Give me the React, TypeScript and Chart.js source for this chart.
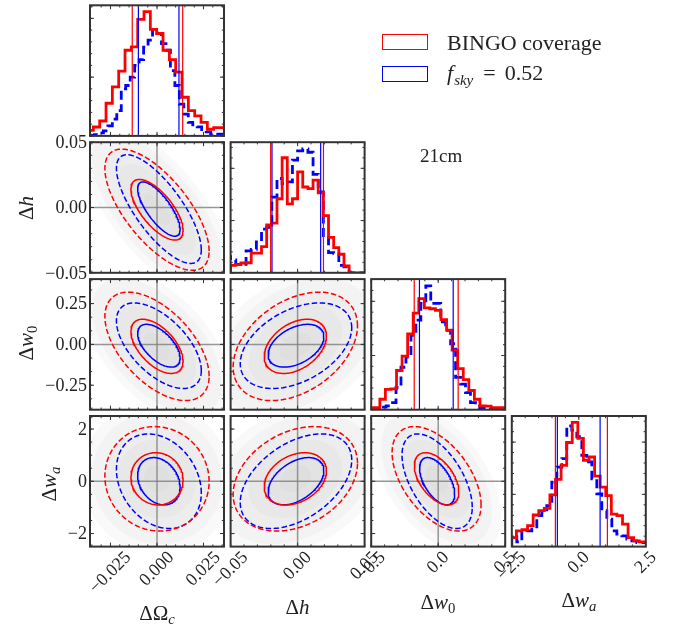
import React, { useEffect, useRef } from "react";
import { Chart, registerables } from "chart.js";

Chart.register(...registerables);

// ---------- figure geometry ----------
const FIG_W = 680;
const FIG_H = 628;
const PANEL_LEFT = [90, 230.6, 371.2, 511.8];
const PANEL_TOP = [5.3, 142.2, 279.1, 416];
const PANEL_W = 134;
const PANEL_H = 130.6;

// ---------- axes ----------
const X_RANGE = [[-0.036, 0.036], [-0.05, 0.05], [-0.5, 0.5], [-2.5, 2.5]];
const Y_RANGE = [[0, 100], [-0.05, 0.05], [-0.4, 0.4], [-2.5, 2.5]];
const X_MAJOR = [[-0.025, 0, 0.025], [-0.05, 0, 0.05], [-0.5, 0, 0.5], [-2.5, 0, 2.5]];
const X_MAJOR_LABELS = [["−0.025", "0.000", "0.025"], ["−0.05", "0.00", "0.05"], ["−0.5", "0.0", "0.5"], ["−2.5", "0.0", "2.5"]];
const X_MINOR_STEP = [0.005, 0.01, 0.1, 0.5];
const Y_MAJOR = [[], [-0.05, 0, 0.05], [-0.25, 0, 0.25], [-2, 0, 2]];
const Y_MAJOR_LABELS = [[], ["−0.05", "0.00", "0.05"], ["−0.25", "0.00", "0.25"], ["−2", "0", "2"]];
const Y_MINOR_STEP = [0, 0.01, 0.0833, 0.5];
const HIST_Y_MAJOR_STEP = [45, 40, 41.5, 40];
const HIST_Y_MINOR_STEP = [9, 8, 8.3, 8];

// ---------- 1D histograms (height, % of panel) ----------
const OMC_RED = [1.7, 4.2, 6.8, 11.4, 25.0, 37.5, 49.6, 65.6, 68.1, 89.2, 95.1, 81.5, 78.4, 65.6, 58.4, 48.8, 29.6, 19.3, 15.4, 10.3, 5.1, 6.4];
const OMC_BLUE = [0, 0.3, 1.0, 2.3, 3.9, 7.7, 12.9, 19.3, 36.0, 38.6, 45.0, 54.0, 58.4, 68.0, 73.3, 81.5, 78.4, 70.7, 65.6, 50.0, 38.6, 24.4, 16.7, 10.3, 8.5, 6.9, 4.9, 3.1, 1.8, 1.3];
const H_RED = [5.2, 5.7, 6.2, 7.5, 7.7, 15.0, 15.0, 20.0, 36.6, 38.1, 56.7, 88.1, 52.8, 56.7, 77.3, 65.7, 64.4, 70.9, 61.3, 43.8, 27.1, 19.3, 14.2, 5.2, 0, 0];
const H_BLUE = [13.4, 9.8, 6.4, 6.4, 16.8, 18.0, 23.7, 33.5, 34.8, 58.0, 72.2, 68.3, 69.6, 86.3, 93.3, 94.8, 92.3, 75.3, 61.9, 27.1, 15.5, 14.9, 5.7, 4.6, 0, 0];
const W0_RED = [1.5, 1.5, 1.5, 8, 15.5, 16, 30, 41, 58, 74, 85, 78, 77.3, 76, 69, 61, 45.6, 31.4, 23, 14.7, 8, 3, 2.8, 1.5, 1.5];
const W0_BLUE = [1, 1, 1, 2, 3, 5.4, 17, 32.5, 40.2, 57, 68.6, 81.4, 94.8, 81.4, 81.4, 67.3, 60.8, 50.5, 24.7, 19.6, 13.1, 5.4, 2.8, 1.5, 1.5, 1, 1];
const WA_RED = [4.4, 6.9, 12.1, 12.9, 16, 24.2, 27.5, 29.3, 39.6, 51.4, 62.2, 79.7, 95.1, 82.8, 66.1, 68.6, 54, 45.5, 39.1, 24.9, 23.7, 17.2, 6.9, 4.4, 3.6];
const WA_BLUE = [6.9, 7.7, 3.6, 11.3, 12.1, 13.4, 23.7, 26.2, 31.4, 49.4, 60.9, 67.4, 92.5, 89.2, 84.1, 69.9, 64.8, 51.9, 40.4, 27.5, 21.1, 12.1, 9.5, 8.2, 5.7, 4.4, 3.1];
const RED_HISTS = [OMC_RED, H_RED, W0_RED, WA_RED];
const BLUE_HISTS = [OMC_BLUE, H_BLUE, W0_BLUE, WA_BLUE];
const RED_BIN_START = [-0.0376, -0.05, -0.5185, -2.537];
const RED_BIN_WIDTH = [0.003403, 0.003846, 0.0415, 0.2084];
const BLUE_BIN_START = [-0.036, -0.05, -0.5, -2.5];
const BLUE_BIN_WIDTH = [0.0024, 0.003846, 0.03704, 0.1866];
const RED_QUANT = [[-0.0133, 0.0138], [-0.0201, 0.0193], [-0.179, 0.149], [-0.873, 1.067]];
const BLUE_QUANT = [[-0.01, 0.0118], [-0.0191, 0.0172], [-0.14, 0.112], [-0.8, 0.795]];

// ---------- 2D contours (Fisher-like ellipses) ----------
const TRUTH = [0, 0, 0, 0];
const RED_CENTER = [0, -0.0017, -0.012, 0.095];
const BLUE_CENTER = [0.001, -0.0012, -0.008, 0.003];
const RED_SIGMA = [0.014, 0.0232, 0.166, 1.0];
const BLUE_SIGMA = [0.0114, 0.0208, 0.131, 0.905];
// correlation for pair (row, col) keyed "row-col"
const RED_RHO: Record<string, number> = { "1-0": -0.68, "2-0": -0.55, "3-0": -0.05, "2-1": 0.38, "3-1": 0.3, "3-2": -0.5 };
const BLUE_RHO: Record<string, number> = { "1-0": -0.75, "2-0": -0.58, "3-0": -0.25, "2-1": 0.42, "3-1": 0.45, "3-2": -0.55 };
const CONTOUR_LEVELS = [1, 2];
const CLOUD_LEVELS = [0.5, 1.0, 1.5, 2.0, 2.5, 2.9];

const RED = "#ff0000";
const BLUE = "#0000ff";
const FRAME = "#333333";
const TEXT = "#222222";
const SERIF = '"Liberation Serif", "Times New Roman", serif';

function ellipse(cx: number, cy: number, sx: number, sy: number, rho: number, k: number) {
  const pts: { x: number; y: number }[] = [];
  const n = 160;
  const c = Math.sqrt(1 - rho * rho);
  for (let i = 0; i <= n; i++) {
    const t = (i / n) * Math.PI * 2;
    pts.push({ x: cx + k * sx * Math.cos(t), y: cy + k * sy * (rho * Math.cos(t) + c * Math.sin(t)) });
  }
  return pts;
}

function histPoints(start: number, width: number, counts: number[]) {
  const pts = [{ x: start, y: 0 }];
  counts.forEach((c, i) => pts.push({ x: start + i * width, y: c }));
  const end = start + counts.length * width;
  pts.push({ x: end, y: counts[counts.length - 1] });
  pts.push({ x: end, y: 0 });
  return pts;
}

function ticksInRange(min: number, max: number, step: number) {
  const out: number[] = [];
  if (!step) return out;
  const s = Math.ceil(min / step - 1e-6);
  for (let k = s; k * step <= max + 1e-9; k++) out.push(k * step);
  return out;
}

function vline(x: number, y0: number, y1: number) {
  return [{ x, y: y0 }, { x, y: y1 }];
}

function histDatasets(i: number) {
  const ds: any[] = [];
  ds.push({
    data: histPoints(BLUE_BIN_START[i], BLUE_BIN_WIDTH[i], BLUE_HISTS[i]),
    borderColor: BLUE, borderWidth: 2.8, borderDash: [9, 4.5], stepped: "after", order: 6,
  });
  ds.push({
    data: histPoints(RED_BIN_START[i], RED_BIN_WIDTH[i], RED_HISTS[i]),
    borderColor: RED, borderWidth: 2.8, stepped: "after", order: 5,
  });
  RED_QUANT[i].forEach((q) => ds.push({ data: vline(q, 0, 100), borderColor: RED, borderWidth: 1.2, order: 2 }));
  BLUE_QUANT[i].forEach((q) => ds.push({ data: vline(q, 0, 100), borderColor: BLUE, borderWidth: 1.2, order: 1 }));
  return ds;
}

function pairDatasets(row: number, col: number) {
  const key = `${row}-${col}`;
  const ds: any[] = [];
  const yr = Y_RANGE[row];
  const xr = X_RANGE[col];
  CLOUD_LEVELS.forEach((k) =>
    ds.push({
      data: ellipse(RED_CENTER[col], RED_CENTER[row], RED_SIGMA[col], RED_SIGMA[row], RED_RHO[key], k),
      borderColor: "rgba(0,0,0,0)", borderWidth: 0, backgroundColor: "rgba(120,120,120,0.042)", fill: "shape", order: 30,
    })
  );
  ds.push({ data: vline(TRUTH[col], yr[0], yr[1]), borderColor: "rgba(125,125,125,0.8)", borderWidth: 1.5, order: 20 });
  ds.push({ data: [{ x: xr[0], y: TRUTH[row] }, { x: xr[1], y: TRUTH[row] }], borderColor: "rgba(125,125,125,0.8)", borderWidth: 1.5, order: 20 });
  CONTOUR_LEVELS.forEach((k) => {
    const dash = k > 1 ? [5.5, 2.5] : [];
    ds.push({
      data: ellipse(BLUE_CENTER[col], BLUE_CENTER[row], BLUE_SIGMA[col], BLUE_SIGMA[row], BLUE_RHO[key], k),
      borderColor: BLUE, borderWidth: 1.5, borderDash: dash, order: 4 + k,
    });
    ds.push({
      data: ellipse(RED_CENTER[col], RED_CENTER[row], RED_SIGMA[col], RED_SIGMA[row], RED_RHO[key], k),
      borderColor: RED, borderWidth: 1.5, borderDash: dash, order: 3 + k,
    });
  });
  return ds;
}

function framePlugin(row: number, col: number) {
  return {
    id: "cornerFrame",
    afterDraw(chart: any) {
      const { ctx, chartArea: a, scales } = chart;
      const xs = scales.x;
      const ys = scales.y;
      const diag = row === col;
      ctx.save();
      ctx.strokeStyle = FRAME;
      ctx.lineWidth = 1;
      const drawX = (v: number, len: number) => {
        const p = xs.getPixelForValue(v);
        if (p < a.left - 0.5 || p > a.right + 0.5) return;
        ctx.beginPath();
        ctx.moveTo(p, a.bottom);
        ctx.lineTo(p, a.bottom - len);
        ctx.moveTo(p, a.top);
        ctx.lineTo(p, a.top + len);
        ctx.stroke();
      };
      const drawY = (v: number, len: number) => {
        const p = ys.getPixelForValue(v);
        if (p < a.top - 0.5 || p > a.bottom + 0.5) return;
        ctx.beginPath();
        ctx.moveTo(a.left, p);
        ctx.lineTo(a.left + len, p);
        ctx.moveTo(a.right, p);
        ctx.lineTo(a.right - len, p);
        ctx.stroke();
      };
      ticksInRange(X_RANGE[col][0], X_RANGE[col][1], X_MINOR_STEP[col]).forEach((v) => drawX(v, 2.2));
      X_MAJOR[col].forEach((v) => drawX(v, 4));
      if (diag) {
        ticksInRange(0, 100, HIST_Y_MINOR_STEP[col]).forEach((v) => drawY(v, 2.2));
        ticksInRange(0, 100, HIST_Y_MAJOR_STEP[col]).forEach((v) => drawY(v, 4));
      } else {
        ticksInRange(Y_RANGE[row][0], Y_RANGE[row][1], Y_MINOR_STEP[row]).forEach((v) => drawY(v, 2.2));
        Y_MAJOR[row].forEach((v) => drawY(v, 4));
      }
      ctx.lineWidth = 2;
      ctx.strokeRect(a.left, a.top, a.right - a.left, a.bottom - a.top);

      ctx.fillStyle = TEXT;
      ctx.font = `18px ${SERIF}`;
      if (row === 3) {
        X_MAJOR[col].forEach((v, i) => {
          const label = X_MAJOR_LABELS[col][i];
          const p = xs.getPixelForValue(v);
          const w = ctx.measureText(label).width;
          const bh = (w + 12) * Math.SQRT1_2;
          ctx.save();
          ctx.translate(p, a.bottom + 4 + bh / 2);
          ctx.rotate(-Math.PI / 4);
          ctx.textAlign = "center";
          ctx.textBaseline = "middle";
          ctx.fillText(label, 0, 0);
          ctx.restore();
        });
      }
      if (col === 0 && row > 0) {
        ctx.textAlign = "right";
        ctx.textBaseline = "middle";
        Y_MAJOR[row].forEach((v, i) => {
          const p = ys.getPixelForValue(v);
          ctx.fillText(Y_MAJOR_LABELS[row][i], a.left - 3, p + 1);
        });
      }
      ctx.restore();
    },
  };
}

function buildConfig(row: number, col: number): any {
  const left = PANEL_LEFT[col];
  const top = PANEL_TOP[row];
  const xr = X_RANGE[col];
  const yr = Y_RANGE[row === col ? 0 : row];
  const datasets = row === col ? histDatasets(col) : pairDatasets(row, col);
  return {
    type: "line",
    data: { datasets },
    options: {
      responsive: false,
      animation: false,
      devicePixelRatio: 1,
      events: [],
      layout: { padding: { left, top, right: FIG_W - left - PANEL_W, bottom: FIG_H - top - PANEL_H } },
      scales: {
        x: { type: "linear", min: xr[0], max: xr[1], display: false },
        y: { type: "linear", min: yr[0], max: yr[1], display: false },
      },
      elements: { point: { radius: 0 }, line: { tension: 0 } },
      plugins: { legend: { display: false }, tooltip: { enabled: false } },
    },
    plugins: [framePlugin(row, col)],
  };
}

const PANELS: { row: number; col: number }[] = [];
for (let r = 0; r < 4; r++) for (let c = 0; c <= r; c++) PANELS.push({ row: r, col: c });

const abs = (left: number, top: number, extra: React.CSSProperties = {}): React.CSSProperties => ({
  position: "absolute", left, top, whiteSpace: "nowrap", lineHeight: 1, fontFamily: SERIF, color: TEXT, ...extra,
});

export default function App() {
  const refs = useRef<(HTMLCanvasElement | null)[]>([]);
  useEffect(() => {
    const charts: Chart[] = [];
    PANELS.forEach((p, i) => {
      const cv = refs.current[i];
      if (cv) charts.push(new Chart(cv, buildConfig(p.row, p.col)));
    });
    return () => charts.forEach((c) => c.destroy());
  }, []);

  const subStyle = (italic: boolean): React.CSSProperties => ({
    fontSize: "0.7em", position: "relative", top: "0.3em", fontStyle: italic ? "italic" : "normal",
  });
  const it: React.CSSProperties = { fontStyle: "italic" };
  const titleFont = 21;

  return (
    <div style={{ position: "absolute", left: 0, top: 0, width: FIG_W, height: FIG_H, background: "#fff", overflow: "hidden" }}>
      {PANELS.map((p, i) => (
        <canvas
          key={i}
          ref={(el) => { refs.current[i] = el; }}
          width={FIG_W}
          height={FIG_H}
          style={{ position: "absolute", left: 0, top: 0, width: FIG_W, height: FIG_H }}
        />
      ))}

      {/* legend */}
      <div style={{ position: "absolute", left: 382, top: 33.5, width: 46, height: 16.5, border: `1.5px solid ${RED}`, boxSizing: "border-box" }} />
      <div style={{ position: "absolute", left: 382, top: 65.8, width: 46, height: 16.5, border: `1.5px solid ${BLUE}`, boxSizing: "border-box" }} />
      <div style={abs(447, 42.5, { fontSize: 22, transform: "translateY(-50%)" })}>BINGO coverage</div>
      <div style={abs(447, 73, { fontSize: 22, transform: "translateY(-50%)" })}>
        <span style={it}>f</span>
        <span style={{ ...it, fontSize: 15, position: "relative", top: 5, marginLeft: 1 }}>sky</span>
        <span style={{ margin: "0 9px 0 10px" }}>=</span>0.52
      </div>
      <div style={abs(420, 155, { fontSize: 19, transform: "translateY(-50%)" })}>21cm</div>

      {/* bottom axis titles */}
      <div style={abs(157, 613, { fontSize: titleFont, transform: "translate(-50%,-50%)" })}>
        ΔΩ<span style={subStyle(true)}>c</span>
      </div>
      <div style={abs(297.5, 606.5, { fontSize: titleFont, transform: "translate(-50%,-50%)" })}>
        Δ<span style={it}>h</span>
      </div>
      <div style={abs(438, 602, { fontSize: titleFont, transform: "translate(-50%,-50%)" })}>
        Δ<span style={it}>w</span><span style={subStyle(false)}>0</span>
      </div>
      <div style={abs(579, 600, { fontSize: titleFont, transform: "translate(-50%,-50%)" })}>
        Δ<span style={it}>w</span><span style={subStyle(true)}>a</span>
      </div>

      {/* left axis titles */}
      <div style={abs(26, 207.5, { fontSize: titleFont, transform: "translate(-50%,-50%) rotate(-90deg)" })}>
        Δ<span style={it}>h</span>
      </div>
      <div style={abs(26, 343, { fontSize: titleFont, transform: "translate(-50%,-50%) rotate(-90deg)" })}>
        Δ<span style={it}>w</span><span style={subStyle(false)}>0</span>
      </div>
      <div style={abs(49, 484, { fontSize: titleFont, transform: "translate(-50%,-50%) rotate(-90deg)" })}>
        Δ<span style={it}>w</span><span style={subStyle(true)}>a</span>
      </div>
    </div>
  );
}
